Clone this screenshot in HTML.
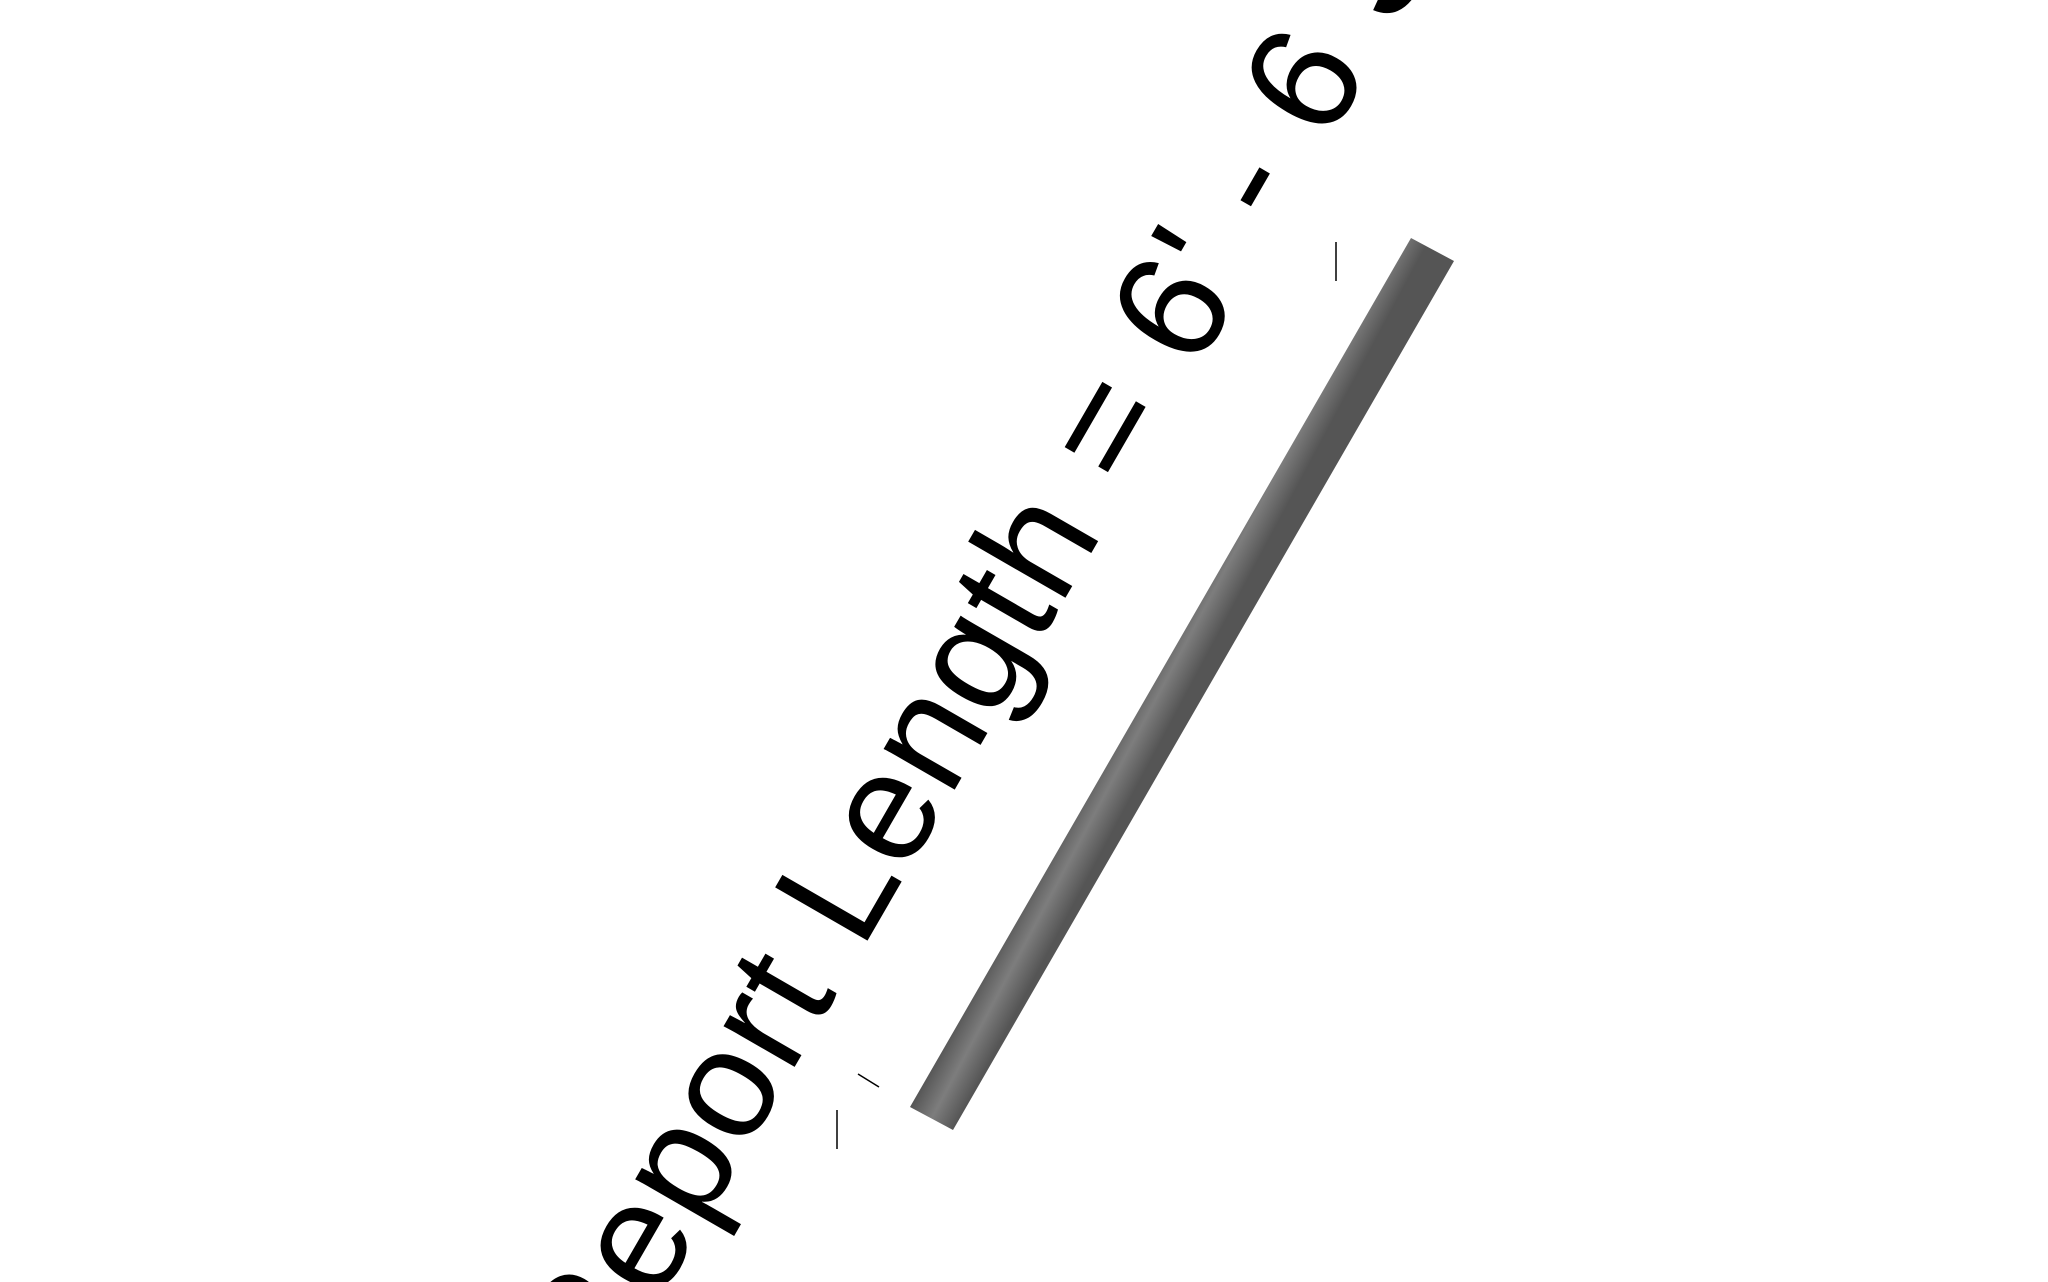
<!DOCTYPE html>
<html><head><meta charset="utf-8"><style>html,body{margin:0;padding:0;background:#fff;overflow:hidden;width:2048px;height:1282px}svg{display:block;overflow:hidden}</style></head>
<body>
<svg width="2048" height="1282" viewBox="0 0 2048 1282">
<defs><linearGradient id="g" gradientUnits="userSpaceOnUse" x1="910" y1="1107" x2="953" y2="1130"><stop offset="0" stop-color="#555"/><stop offset="0.5" stop-color="#7d7d7d"/><stop offset="1" stop-color="#555"/></linearGradient></defs>
<polygon points="910,1107 953,1130 1454,261 1411,238" fill="url(#g)"/>
<line x1="1336" y1="242" x2="1336" y2="281" stroke="#000" stroke-width="1.5"/>
<line x1="837" y1="1110" x2="837" y2="1149" stroke="#000" stroke-width="1.5"/>
<line x1="858" y1="1074" x2="879" y2="1087" stroke="#000" stroke-width="1.5"/>
<text x="0" y="0" letter-spacing="2" transform="translate(600,1404) rotate(-60)" font-family="'Liberation Sans', 'DejaVu Sans', sans-serif" font-size="155" fill="#000">Report Length = 6' - 6 3/4"</text>
</svg>
</body></html>
